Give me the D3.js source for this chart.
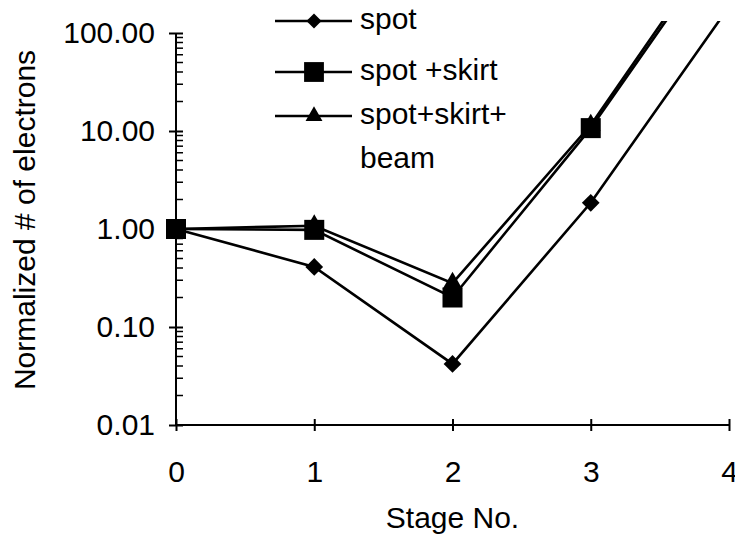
<!DOCTYPE html>
<html>
<head>
<meta charset="utf-8">
<script src="https://cdn.jsdelivr.net/npm/d3@7/dist/d3.min.js"></script>
<style>
  html, body { margin: 0; padding: 0; background: #fff; }
  svg { display: block; font-family: Arial, "Liberation Sans", sans-serif; }
</style>
</head>
<body>
<svg id="chart" width="735" height="541"></svg>
<script>
// Stage numbers along the x axis
const stages = [0, 1, 2, 3, 4];
// Normalized electron counts per stage for each configuration
const spotValues = [1.0, 0.41, 0.042, 1.85, 185];
const skirtValues = [1.0, 0.98, 0.20, 10.7, 1100];
const beamValues = [1.0, 1.08, 0.28, 11.5, 1250];
const seriesNames = ["spot", "spot +skirt", ["spot+skirt+", "beam"]];
const seriesSymbols = ["diamond", "square", "triangle"];
const yTickValues = [0.01, 0.1, 1, 10, 100];
const xTickValues = [0, 1, 2, 3, 4];

const series = [
  { name: seriesNames[0], symbol: seriesSymbols[0], values: spotValues },
  { name: seriesNames[1], symbol: seriesSymbols[1], values: skirtValues },
  { name: seriesNames[2], symbol: seriesSymbols[2], values: beamValues }
];

const FONT = 30;
const svg = d3.select("#chart");
const plotLeft = 176, plotRight = 729, plotTop = 33, plotBottom = 425;

const x = d3.scaleLinear().domain([0, 4]).range([plotLeft, plotRight]);
const y = d3.scaleLog().domain([0.01, 100]).range([plotBottom, plotTop]);

// Clip region for the data lines (they run off the top)
svg.append("defs").append("clipPath").attr("id", "plotClip")
  .append("rect").attr("x", plotLeft - 20).attr("y", 21)
  .attr("width", 735 - plotLeft + 20).attr("height", plotBottom - 21 + 20);

const symbolGen = {
  diamond: d3.symbol().type(d3.symbolDiamond2).size(200),
  square: d3.symbol().type(d3.symbolSquare2).size(510),
  triangle: d3.symbol().type(d3.symbolTriangle2).size(280)
};
const legendSymbolGen = {
  diamond: d3.symbol().type(d3.symbolDiamond2).size(145),
  square: d3.symbol().type(d3.symbolSquare2).size(500),
  triangle: d3.symbol().type(d3.symbolTriangle2).size(205)
};

// Y axis: major ticks crossing the axis, minor ticks inside only
const yAxisG = svg.append("g").attr("transform", `translate(${plotLeft},0)`);
const yAxis = d3.axisLeft(y).tickValues(yTickValues)
  .tickFormat(d3.format(".2f")).tickSize(7).tickPadding(14);
yAxisG.call(yAxis);
yAxisG.select(".domain").remove();
yAxisG.append("line").attr("x1", 0).attr("x2", 0)
  .attr("y1", y(100)).attr("y2", y(0.01))
  .attr("stroke", "#000").attr("stroke-width", 2);
yAxisG.selectAll(".tick line").attr("x1", 7).attr("x2", -7)
  .attr("stroke", "#000").attr("stroke-width", 2);
yAxisG.selectAll(".tick text").attr("font-size", FONT).attr("fill", "#000")
  .attr("font-family", "Arial, 'Liberation Sans', sans-serif");

const minorTicks = [];
for (let e = -2; e < 2; e++) {
  for (let m = 2; m <= 9; m++) minorTicks.push(m * Math.pow(10, e));
}
yAxisG.selectAll(".minor").data(minorTicks).join("line")
  .attr("class", "minor")
  .attr("x1", 0).attr("x2", 7)
  .attr("y1", d => y(d)).attr("y2", d => y(d))
  .attr("stroke", "#000").attr("stroke-width", 1.5);

// X axis with ticks crossing the line
const xAxisG = svg.append("g").attr("transform", `translate(0,${plotBottom})`);
const xAxis = d3.axisBottom(x).tickValues(xTickValues)
  .tickFormat(d3.format("d")).tickSize(6);
xAxisG.call(xAxis);
xAxisG.select(".domain").remove();
xAxisG.append("line").attr("x1", plotLeft).attr("x2", plotRight)
  .attr("y1", 0).attr("y2", 0).attr("stroke", "#000").attr("stroke-width", 2);
xAxisG.selectAll(".tick line").attr("y1", -6).attr("y2", 6)
  .attr("stroke", "#000").attr("stroke-width", 2);
xAxisG.selectAll(".tick text").attr("font-size", FONT).attr("fill", "#000")
  .attr("y", 57).attr("dy", 0)
  .attr("font-family", "Arial, 'Liberation Sans', sans-serif");

// Axis titles
svg.append("text").attr("x", (plotLeft + plotRight) / 2).attr("y", 528)
  .attr("text-anchor", "middle").attr("font-size", FONT).text("Stage No.");
svg.append("text")
  .attr("transform", `translate(35,220) rotate(-90)`)
  .attr("text-anchor", "middle").attr("font-size", FONT)
  .text("Normalized # of electrons");

// Data series
const line = d3.line().x((d, i) => x(stages[i])).y(d => y(d));
const plot = svg.append("g").attr("clip-path", "url(#plotClip)");
const drawOrder = [0, 2, 1];
drawOrder.forEach(k => {
  const s = series[k];
  plot.append("path").datum(s.values).attr("d", line)
    .attr("fill", "none").attr("stroke", "#000").attr("stroke-width", 2.6)
    .attr("stroke-linejoin", "miter");
});
drawOrder.forEach(k => {
  const s = series[k];
  plot.selectAll(null).data(s.values.slice(0, 4)).join("path")
    .attr("d", symbolGen[s.symbol])
    .attr("transform", (d, i) => `translate(${x(stages[i])},${y(d)})`)
    .attr("fill", "#000");
});

// Legend
const legendRows = [21, 72, 116];
const legend = svg.append("g");
series.forEach((s, k) => {
  const ry = legendRows[k];
  legend.append("line").attr("x1", 275).attr("x2", 352)
    .attr("y1", ry).attr("y2", ry).attr("stroke", "#000").attr("stroke-width", 2.6);
  legend.append("path").attr("d", legendSymbolGen[s.symbol])
    .attr("transform", `translate(314,${ry})`).attr("fill", "#000");
  const lines = Array.isArray(s.name) ? s.name : [s.name];
  const t = legend.append("text").attr("x", 360).attr("y", ry + 8)
    .attr("font-size", FONT).attr("fill", "#000");
  lines.forEach((ln, j) => {
    t.append("tspan").attr("x", 360).attr("dy", j === 0 ? 0 : 44).text(ln);
  });
});
</script>
</body>
</html>
